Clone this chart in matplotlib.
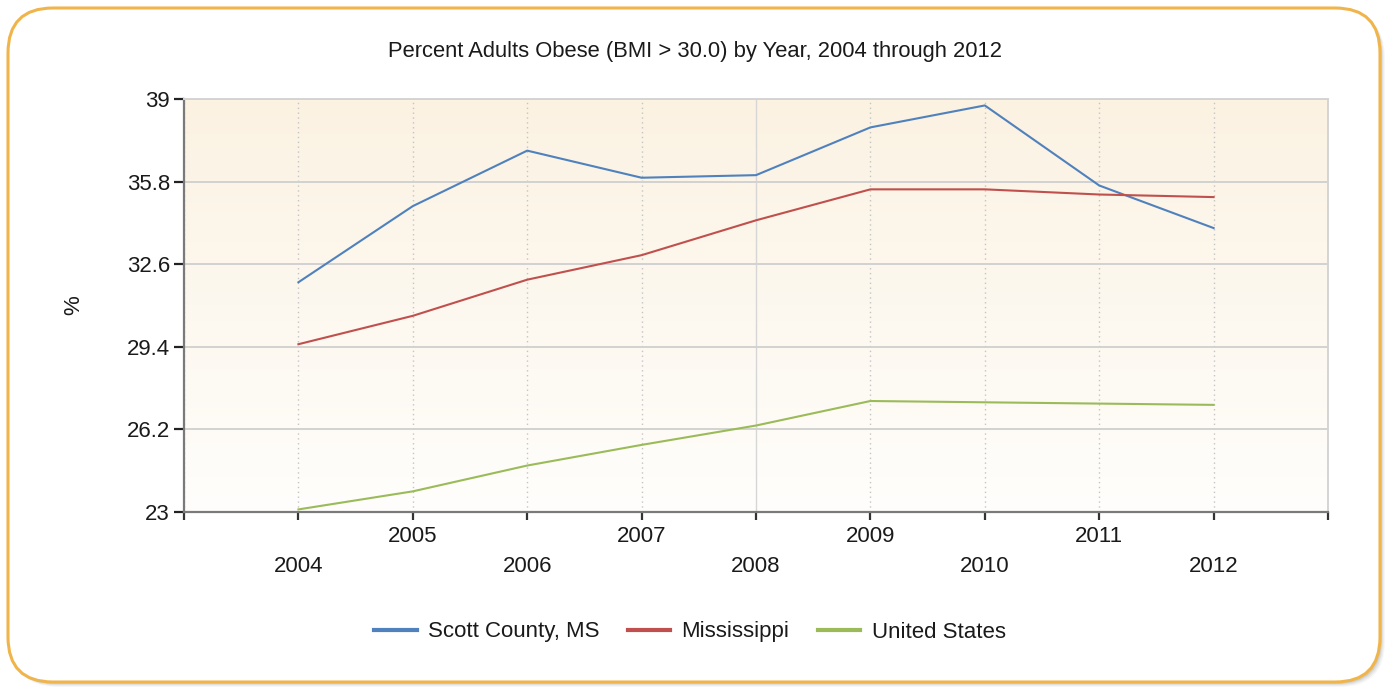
import numpy as np
import matplotlib
matplotlib.use('Agg')
import matplotlib.pyplot as plt
from matplotlib.patches import FancyBboxPatch
from matplotlib.colors import LinearSegmentedColormap
from matplotlib.transforms import IdentityTransform

# data
years = ['2004', '2005', '2006', '2007', '2008', '2009', '2010', '2011', '2012']
scott_county = [31.9, 34.85, 37.0, 35.95, 36.05, 37.9, 38.75, 35.65, 34.0]
mississippi = [29.5, 30.6, 32.0, 32.95, 34.3, 35.5, 35.5, 35.3, 35.2]
united_states = [23.1, 23.8, 24.8, 25.6, 26.35, 27.3, 27.25, 27.2, 27.15]
y_ticks = [23, 26.2, 29.4, 32.6, 35.8, 39]

plt.rcParams['font.family'] = ['Liberation Sans', 'DejaVu Sans']
txt = '#1a1a1a'

fig = plt.figure(figsize=(13.9, 6.88), dpi=100)
fig.patch.set_facecolor('white')

# rounded frame with soft shadow (display pixels)
for i, a in enumerate([0.06, 0.08, 0.12, 0.16]):
    sh = FancyBboxPatch((8 + 5 - i, 6 - 5 + i), 1372, 674,
                        boxstyle='round,pad=0,rounding_size=45',
                        transform=IdentityTransform(), facecolor='#808080',
                        edgecolor='none', alpha=a, zorder=-3)
    fig.patches.append(sh)
frame = FancyBboxPatch((8, 6), 1372, 674, boxstyle='round,pad=0,rounding_size=45',
                       transform=IdentityTransform(), facecolor='white',
                       edgecolor='#F0B54A', linewidth=2.2, zorder=-2)
fig.patches.append(frame)

ax = fig.add_axes([184 / 1390, 176 / 688, 1144 / 1390, 413 / 688])
x = np.arange(1, len(years) + 1)

# background gradient
cmap = LinearSegmentedColormap.from_list('bg', ['#FBF2E2', '#FFFEFC'])
ax.imshow(np.linspace(0, 1, 256).reshape(-1, 1), cmap=cmap, aspect='auto',
          extent=[0, len(years) + 1, y_ticks[0], y_ticks[-1]], zorder=0)

ax.plot(x, scott_county, color='#4F81BD', lw=1.5, label='Scott County, MS', zorder=3)
ax.plot(x, mississippi, color='#C0504D', lw=1.5, label='Mississippi', zorder=3)
ax.plot(x, united_states, color='#9BBB59', lw=1.5, label='United States', zorder=3)

ax.set_xlim(0, len(years) + 1)
ax.set_ylim(y_ticks[0], y_ticks[-1])
ax.set_yticks(y_ticks)
ax.set_yticklabels(['23', '26.2', '29.4', '32.6', '35.8', '39'])
ax.set_xticks(np.arange(0, len(years) + 2))
xl = [''] + [y if i % 2 == 1 else '\n' + y for i, y in enumerate(years)] + ['']
ax.set_xticklabels(xl)

ax.set_axisbelow(True)
ax.yaxis.grid(True, color='#d2d2d2', lw=1.4)
ax.xaxis.grid(True, color='#c4c4c4', lw=1.0, linestyle=(0, (1, 2.5)))
ax.get_xgridlines()[5].set_linestyle('-')
ax.get_xgridlines()[5].set_color('#d6d6d6')

for s in ['top', 'right']:
    ax.spines[s].set_color('#d4d4d4')
    ax.spines[s].set_linewidth(1.4)
for s in ['left', 'bottom']:
    ax.spines[s].set_color('#7a7a7a')
    ax.spines[s].set_linewidth(1.6)

ax.tick_params(axis='y', direction='out', length=7, width=1.6, color='#222222',
               labelsize=16, labelcolor=txt, pad=3)
ax.tick_params(axis='x', direction='out', length=6, width=1.6, color='#333333',
               labelsize=16, labelcolor=txt, pad=4, labelbottom=True)
for lab in ax.get_xticklabels():
    lab.set_linespacing(1.55)

fig.text(0.5, 1 - 52 / 688, 'Percent Adults Obese (BMI > 30.0) by Year, 2004 through 2012',
         fontsize=15.8, color=txt, ha='center', va='center')
ax.set_ylabel('%', fontsize=16, color=txt)
ax.yaxis.set_label_coords((84 - 184) / 1144, 0.5)

fig.legend(loc='center', bbox_to_anchor=(690 / 1390, 1 - 632 / 688), ncol=3,
           frameon=False, fontsize=16, handlelength=1.9, handletextpad=0.5,
           columnspacing=1.3, labelcolor=txt)
for lh in fig.legends[0].get_lines():
    lh.set_linewidth(3)

fig.savefig('out.png', dpi=100)
